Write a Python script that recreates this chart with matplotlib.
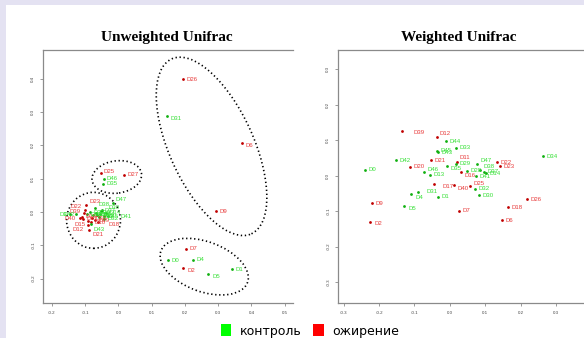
import matplotlib
matplotlib.use("Agg")
import matplotlib.pyplot as plt
from matplotlib.patches import Ellipse, Patch, Rectangle

# sample groups: listed = ожирение (red), others = контроль (green)
obese = ["D2", "D6", "D7", "D9", "D10", "D11", "D12", "D15", "D16", "D17", "D18", "D19",
         "D20", "D21", "D22", "D23", "D25", "D26", "D27", "D39", "D40"]

# Unweighted Unifrac coordinates (PC1, PC2)
uw_labels = ["D26", "D31", "D6", "D9", "D7", "D0", "D4", "D2", "D1", "D5",
             "D25", "D27", "D46", "D35",
             "D23", "D22", "D39", "D40", "D15", "D12", "D21", "D18", "D10", "D19", "D16", "D17", "D20",
             "D47", "D38", "D30", "D3", "D44", "D43", "D45", "D41", "D29", "D33", "D13", "D14",
             "D28", "D37", "D34", "D32", "D42", "D36"]
uw_x = [0.193, 0.145, 0.371, 0.294, 0.202, 0.148, 0.225, 0.194, 0.341, 0.270,
        -0.054, 0.016, -0.045, -0.046,
        -0.097, -0.101, -0.104, -0.116, -0.092, -0.092, -0.089, -0.062, -0.083, -0.071, -0.110, -0.107, -0.080,
        -0.017, -0.071, -0.050, -0.146, -0.056, -0.083, -0.044, -0.032, -0.068, -0.086, -0.059, -0.038,
        -0.077, -0.053, -0.095, -0.044, -0.128, -0.065]
uw_y = [0.398, 0.288, 0.206, 0.002, -0.111, -0.144, -0.143, -0.167, -0.172, -0.186,
        0.117, 0.112, 0.099, 0.085,
        0.021, 0.006, -0.003, -0.018, -0.027, -0.039, -0.054, -0.030, -0.030, -0.024, -0.015, -0.021, -0.018,
        0.027, 0.012, 0.006, -0.006, -0.006, -0.036, -0.012, -0.012, -0.003, 0.000, -0.015, -0.003,
        -0.009, 0.003, -0.006, -0.021, -0.006, -0.009]

# Weighted Unifrac coordinates
w_labels = ["D39", "D12", "D44", "D33", "D45", "D43", "D42", "D21", "D11", "D29", "D35",
            "D47", "D22", "D23", "D34", "D0", "D20", "D46", "D13", "D16", "D28", "D38",
            "D37", "D14", "D41", "D17", "D40", "D25", "D32", "D30", "D31", "D4", "D1",
            "D26", "D18", "D9", "D5", "D7", "D2", "D6"]
w_x = [-0.135, -0.037, -0.011, 0.017, -0.036, -0.033, -0.151, -0.052, 0.019, 0.017, -0.008,
       0.076, 0.132, 0.141, 0.263, -0.240, -0.114, -0.073, -0.057, 0.031, 0.049, 0.086,
       0.095, 0.101, 0.073, -0.044, 0.011, 0.057, 0.072, 0.083, -0.090, -0.109, -0.034,
       0.218, 0.163, -0.220, -0.129, 0.026, -0.225, 0.146]
w_y = [0.127, 0.110, 0.097, 0.078, 0.070, 0.066, 0.044, 0.044, 0.038, 0.033, 0.028,
       0.033, 0.038, 0.027, 0.055, 0.016, 0.025, 0.009, 0.002, 0.011, 0.013, 0.017,
       0.011, 0.006, -0.002, -0.024, -0.027, -0.029, -0.037, -0.055, -0.045, -0.052, -0.060,
       -0.066, -0.089, -0.078, -0.085, -0.099, -0.131, -0.126]

# group ellipses on the unweighted plot: centre x, centre y, width, height, angle
ell_cx = [0.280, 0.258, -0.075, -0.005]
ell_cy = [0.197, -0.164, -0.025, 0.105]
ell_w = [0.253, 0.277, 0.162, 0.150]
ell_h = [0.577, 0.150, 0.168, 0.097]
ell_a = [24.6, -20, 0, 8]

legend_labels = ["контроль", "ожирение"]

# label nudges in points (default is just right of the point)
uw_nudge = {"D31": (2.5, -2), "D6": (3, -1.5), "D2": (3, -2), "D5": (3, -2), "D25": (2.5, 1),
            "D23": (2.5, 2.5), "D22": (-2, 2.5), "D39": (-2, 1), "D40": (-3, 0), "D15": (-2, -2.5),
            "D12": (-3, -3), "D21": (2.5, -3.5), "D18": (8, -2), "D47": (2, 2.5), "D38": (2.5, 2.5),
            "D30": (5, 2), "D3": (-2, 0), "D43": (2, -4), "D41": (9, 0), "D42": (-1, 0)}
w_nudge = {"D39": (8, -1.5), "D12": (2, 2), "D11": (2, 3), "D35": (2.5, -2), "D47": (2.5, 2.5),
           "D46": (2.5, 2), "D16": (2.5, -2.5), "D38": (2.5, 2.5), "D40": (3, -2.5), "D25": (2.5, 2),
           "D4": (3, -2.5), "D5": (3, -2), "D17": (6, -1.5), "D31": (6, 0), "D2": (3, -1)}

RED_PT, RED_TX = "#c00000", "#e83a3a"
GRN_PT, GRN_TX = "#10b010", "#35e035"

plt.rcParams['font.family'] = ['Liberation Sans', 'DejaVu Sans']

fig = plt.figure(figsize=(5.84, 3.38), dpi=100)
fig.patch.set_facecolor("#e4e2f2")
fig.patches.append(Rectangle((6 / 584, 0), 1, 1 - 5 / 338, transform=fig.transFigure,
                             facecolor="white", edgecolor="none", zorder=-5))


def draw_panel(ax, labels, xs, ys, nudge):
    for lab, x, y in zip(labels, xs, ys):
        is_red = lab in obese
        ax.scatter(x, y, s=4, color=RED_PT if is_red else GRN_PT, linewidths=0, zorder=3)
        dx, dy = nudge.get(lab, (2.5, 0))
        ax.annotate(lab, (x, y), xytext=(dx, dy), textcoords="offset points",
                    fontsize=4.3, color=RED_TX if is_red else GRN_TX,
                    ha="left" if dx >= 0 else "right", va="center", zorder=4)
    for sp in ax.spines.values():
        sp.set_color("#8a8a8a")
        sp.set_linewidth(0.9)
    ax.spines["right"].set_visible(False)  # plots are cropped on the right
    ax.tick_params(length=2.5, width=0.6, color="#8a8a8a", labelsize=3.2,
                   labelcolor="#444444", pad=3)
    ax.xaxis.set_major_formatter(matplotlib.ticker.FormatStrFormatter("%.1f"))
    ax.yaxis.set_major_formatter(matplotlib.ticker.FormatStrFormatter("%.1f"))
    for t in ax.get_yticklabels():
        t.set_rotation(90)
        t.set_va("center")


# Unweighted
ax1 = fig.add_axes([43 / 584, 35 / 338, 250 / 584, 253 / 338])
ax1.set_xlim(-0.227, 0.525)
ax1.set_ylim(-0.273, 0.486)
ax1.set_xticks([-0.2, -0.1, 0.0, 0.1, 0.2, 0.3, 0.4, 0.5])
ax1.set_yticks([-0.2, -0.1, 0.0, 0.1, 0.2, 0.3, 0.4])
draw_panel(ax1, uw_labels, uw_x, uw_y, uw_nudge)
for cx, cy, w, h, a in zip(ell_cx, ell_cy, ell_w, ell_h, ell_a):
    ax1.add_patch(Ellipse((cx, cy), w, h, angle=a, fill=False, edgecolor="black",
                          linewidth=1.2, linestyle=(0, (0.8, 1.6)), zorder=2))

# Weighted
ax2 = fig.add_axes([338 / 584, 35 / 338, 250 / 584, 253 / 338])
ax2.set_xlim(-0.316, 0.390)
ax2.set_ylim(-0.359, 0.354)
ax2.set_xticks([-0.3, -0.2, -0.1, 0.0, 0.1, 0.2, 0.3])
ax2.set_yticks([-0.3, -0.2, -0.1, 0.0, 0.1, 0.2, 0.3])
draw_panel(ax2, w_labels, w_x, w_y, w_nudge)

fig.text(167 / 584, 1 - 38 / 338, "Unweighted Unifrac", family="Liberation Serif",
         weight="bold", fontsize=11, ha="center", va="center")
fig.text(459 / 584, 1 - 38 / 338, "Weighted Unifrac", family="Liberation Serif",
         weight="bold", fontsize=11, ha="center", va="center")

handles = [Patch(facecolor="#00ff00", edgecolor="none"), Patch(facecolor="#ff0000", edgecolor="none")]
fig.legend(handles, legend_labels, ncol=2, loc="center", bbox_to_anchor=(310 / 584, 1 - 331 / 338),
           frameon=False, handlelength=0.85, handleheight=1.1, handletextpad=0.7,
           columnspacing=0.9, prop={"family": "DejaVu Sans", "size": 9})

fig.savefig("out.png", dpi=100)
